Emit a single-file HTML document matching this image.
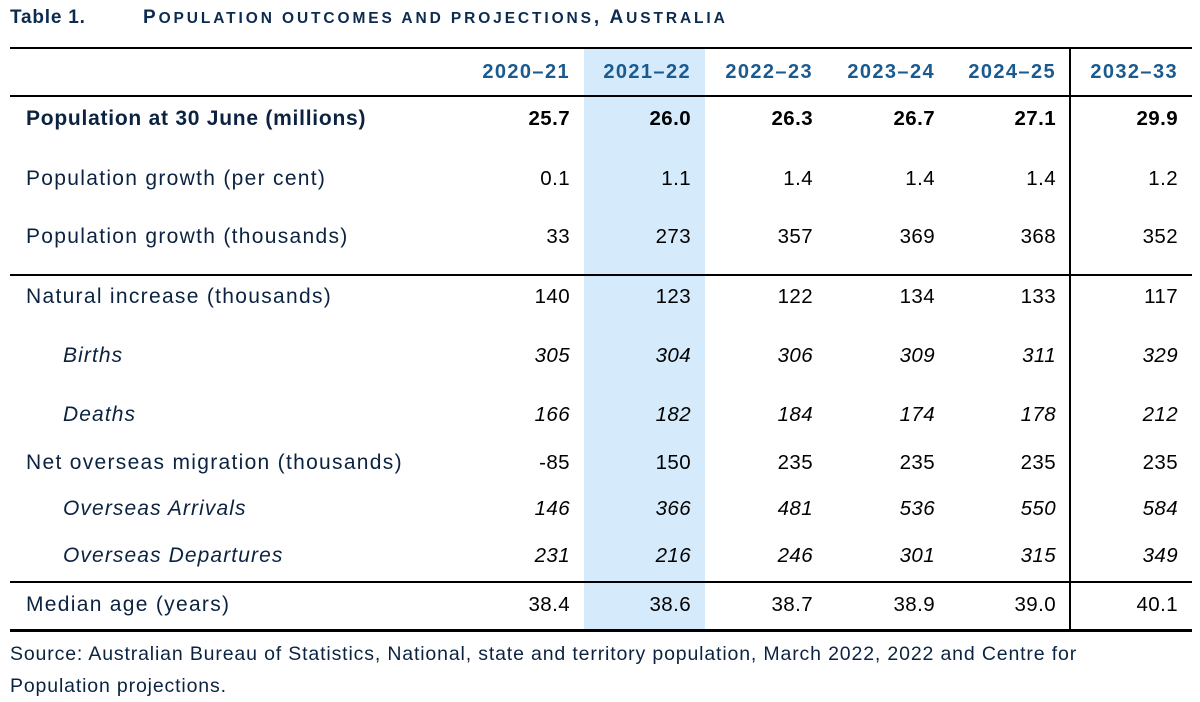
<!DOCTYPE html>
<html><head><meta charset="utf-8"><style>
body{margin:0;width:1200px;height:700px;background:#fff;position:relative;overflow:hidden;font-family:"Liberation Sans",Arial,sans-serif;}
.a{position:absolute;white-space:nowrap;}
.hl{position:absolute;left:10px;width:1182px;background:#000;}
.lab{color:#0b2340;font-size:21px;letter-spacing:1.3px;left:26px;line-height:24px;}
.num{color:#000;font-size:20.5px;line-height:24px;text-align:right;width:100px;letter-spacing:0.4px;}
.hdr{color:#1a5a8e;font-weight:bold;font-size:20px;letter-spacing:1.4px;line-height:24px;text-align:right;width:120px;}
</style></head><body>
<div class="a" style="left:10px;top:7px;font-size:19px;font-weight:bold;color:#0b2b4f;letter-spacing:0.8px;">Table 1.</div>
<div class="a" style="left:143px;top:7px;font-size:19px;font-weight:bold;color:#0b2b4f;letter-spacing:2.9px;">P<span style="font-size:15.5px">OPULATION OUTCOMES AND PROJECTIONS</span>, A<span style="font-size:15.5px">USTRALIA</span></div>
<div class="a" style="left:584px;top:48px;width:121px;height:582px;background:#d5ebfb;"></div>
<div class="hl" style="top:47px;height:2px;"></div>
<div class="hl" style="top:95px;height:2px;"></div>
<div class="hl" style="top:274px;height:2px;"></div>
<div class="hl" style="top:581px;height:2px;"></div>
<div class="hl" style="top:629px;height:3px;"></div>
<div class="a" style="left:1069px;top:48px;width:2px;height:582px;background:#000;"></div>
<div id="t"></div>
<div class="a" style="left:10px;top:638px;font-size:19.5px;letter-spacing:0.85px;line-height:32px;color:#0b2340;">Source: Australian Bureau of Statistics, National, state and territory population, March 2022, 2022 and Centre for<br>Population projections.</div>
<script>
const years=["2020–21","2021–22","2022–23","2023–24","2024–25","2032–33"];
const labels=["Population at 30 June (millions)","Population growth (per cent)","Population growth (thousands)","Natural increase (thousands)","Births","Deaths","Net overseas migration (thousands)","Overseas Arrivals","Overseas Departures","Median age (years)"];
const values=[
["25.7","26.0","26.3","26.7","27.1","29.9"],
["0.1","1.1","1.4","1.4","1.4","1.2"],
["33","273","357","369","368","352"],
["140","123","122","134","133","117"],
["305","304","306","309","311","329"],
["166","182","184","174","178","212"],
["-85","150","235","235","235","235"],
["146","366","481","536","550","584"],
["231","216","246","301","315","349"],
["38.4","38.6","38.7","38.9","39.0","40.1"]];
const styles=["b","n","n","n","i","i","n","i","i","n"];
const rowY=[119,179,237,297,356,415,463,509,556,605];
const colR=[570,691,813,935,1056,1178];
const t=document.getElementById('t');
years.forEach((y,j)=>{
 const d=document.createElement('div');d.className='a hdr';d.textContent=y;
 d.style.left=(colR[j]-120)+'px';d.style.top='60px';
 
 
 t.appendChild(d);
});
labels.forEach((l,i)=>{
 const s=styles[i];
 const d=document.createElement('div');d.className='a lab';d.textContent=l;
 d.style.top=(rowY[i]-12)+'px';
 if(s==='b'){d.style.fontWeight='bold';d.style.letterSpacing='0.75px';}
 if(s==='i'){d.style.fontStyle='italic';d.style.left='63px';d.style.letterSpacing='1.1px';}
 
 
 t.appendChild(d);
 values[i].forEach((v,j)=>{
  const c=document.createElement('div');c.className='a num';c.textContent=v;
  c.style.left=(colR[j]-100)+'px';c.style.top=(rowY[i]-12)+'px';
  if(s==='b')c.style.fontWeight='bold';
  if(s==='i')c.style.fontStyle='italic';
  
  
  t.appendChild(c);
 });
});
</script>
</body></html>
